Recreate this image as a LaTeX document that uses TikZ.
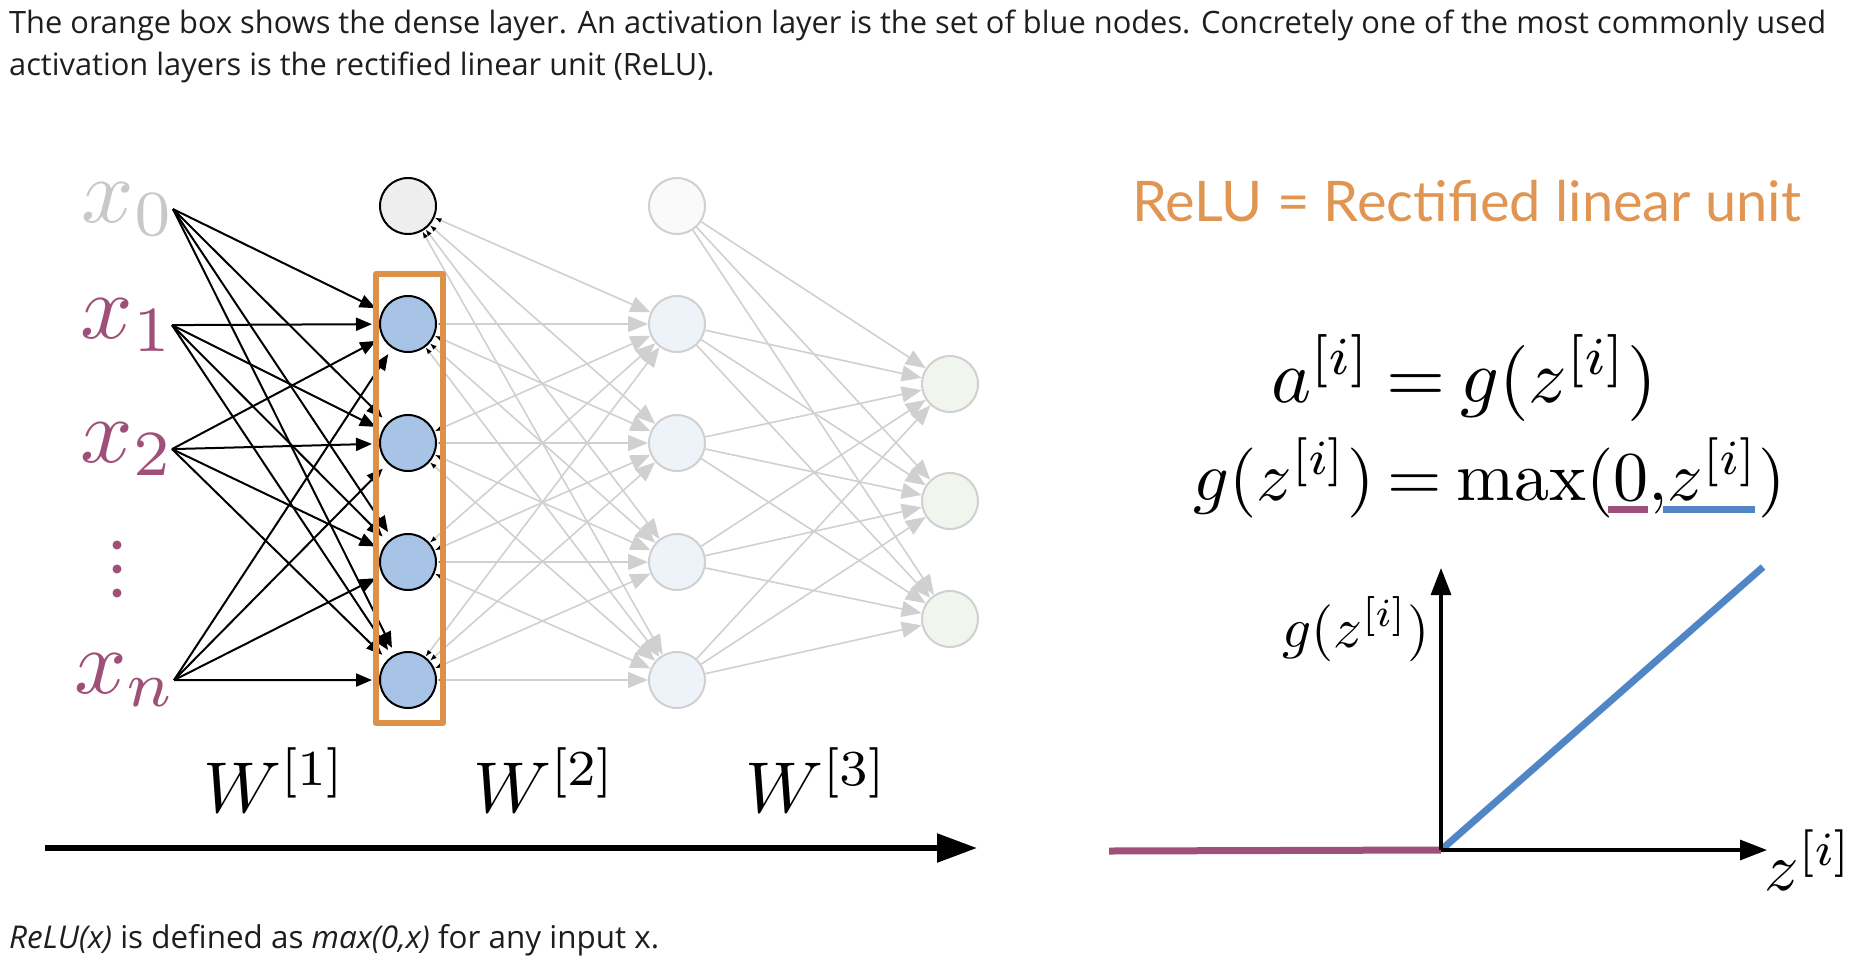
\documentclass[tikz,border=0pt]{standalone}
\usepackage{fontspec}
\usepackage{amsmath}
\usepackage{xcolor}
\usetikzlibrary{arrows.meta,calc}
\newfontfamily\bodyfont{Open Sans}
\newfontfamily\titlefont{Lato}
\newcommand\tightsub{\scriptspace=0pt\relax}
\newcommand\tighteq{\thickmuskip=3.5mu\relax}
\definecolor{boxorange}{RGB}{221,145,72}
\definecolor{titleorange}{RGB}{224,150,82}
\definecolor{inputmauve}{RGB}{158,80,120}
\definecolor{inputgray}{RGB}{200,200,200}
\definecolor{actblue}{RGB}{167,196,230}
\definecolor{lineblue}{RGB}{80,134,198}
\definecolor{fadeblue}{RGB}{238,243,250}
\definecolor{fadegreen}{RGB}{240,246,237}
\definecolor{fadewhite}{RGB}{250,250,250}
\definecolor{fadegray}{RGB}{208,208,208}
\definecolor{biasgray}{RGB}{238,238,238}
\definecolor{bodyblack}{RGB}{30,30,30}

\begin{document}
\begin{tikzpicture}[x=1pt,y=-1pt,
  neuron/.style={circle,inner sep=0pt,minimum size=56pt,line width=2pt},
  biasnode/.style={neuron,draw=black,fill=biasgray},
  actnode/.style={neuron,draw=black,fill=actblue},
  fadebias/.style={neuron,draw=fadegray,fill=fadewhite},
  fadenode/.style={neuron,draw=fadegray,fill=fadeblue},
  outnode/.style={neuron,draw=fadegray,fill=fadegreen},
  mathtext/.style={inner sep=0pt,anchor=base west,scale=#1},
  inlabel/.style={inner sep=0pt,anchor=base east,text=inputmauve,scale=9.2,font=\tightsub},
  wlabel/.style={inner sep=0pt,anchor=base,scale=7.2},
  bodytext/.style={inner sep=0pt,anchor=base west,text=bodyblack,font=\bodyfont\fontsize{30.8}{36}\selectfont},
  inedge/.style={line width=2pt,shorten >=7pt,-{Triangle[length=16pt,width=13pt]}},
  fadeedge/.style={line width=1.6pt,draw=fadegray,-{Triangle[length=20pt,width=16pt]}},
  backedge/.style={fadeedge,arrows={Latex[color=black,length=7pt,width=5pt]-Triangle[length=20pt,width=16pt]}},
  densebox/.style={draw=boxorange,line width=6pt,line join=round},
  axisarrow/.style={line width=3.2pt,-{Triangle[length=27pt,width=20pt]}}
]
\useasboundingbox (0,0) rectangle (1860,962);

\node[bodytext] (intro-1) at (9,33) {The orange box shows the dense layer. An activation layer is the set of blue nodes. Concretely one of the most commonly used};
\node[bodytext] (intro-2) at ([yshift=-42pt]intro-1.base west) {activation layers is the rectified linear unit (ReLU).};
\node[bodytext,font=\bodyfont\fontsize{31.4}{36}\selectfont] (outro) at (9,948) {\itshape ReLU(x)\upshape{} is defined as \itshape max(0,x)\upshape{} for any input x.};

\node[inlabel,text=inputgray] (in-0) at (173,222) {$x_0$};
\node[inlabel] (in-1) at (172,338) {$x_1$};
\node[inlabel] (in-2) at (172,462) {$x_2$};
\node[inlabel] (in-n) at (174,693) {$x_n$};
\foreach \y in {545,569,593}
  \fill[inputmauve] (117,\y) circle (4.5);

\node[biasnode] (hidA-0) at (408,206) {};
\node[fadebias] (hidB-0) at (677,206) {};
\foreach \j/\y in {1/324,2/443,3/562,4/680} {
  \node[actnode] (hidA-\j) at (408,\y) {};
  \node[fadenode] (hidB-\j) at (677,\y) {};
}
\foreach \j/\y in {1/384,2/501,3/619}
  \node[outnode] (out-\j) at (950,\y) {};

\foreach \i in {0,1,2,n}
  \foreach \j in {1,...,4}
    \draw[inedge] (in-\i.east) -- (hidA-\j);
\foreach \i in {0,...,4}
  \foreach \j in {1,...,4}
    \draw[backedge] (hidA-\i) -- (hidB-\j);
\foreach \i in {0,...,4}
  \foreach \j in {1,2,3}
    \draw[fadeedge] (hidB-\i) -- (out-\j);

\draw[densebox] ($(hidA-1.north)+(-32,-21)$) rectangle ($(hidA-4.south)+(35,14)$);

\node[wlabel] (w-1) at (275,812) {$W^{[1]}$};
\node[wlabel] (w-2) at (545,812) {$W^{[2]}$};
\node[wlabel] (w-3) at (817,812) {$W^{[3]}$};
\coordinate (flow-start) at (45,848);
\coordinate (flow-end) at (977,848);
\draw[line width=5.5pt,-{Triangle[length=40pt,width=28pt]}] (flow-start) -- (flow-end);

\node[inner sep=0pt,anchor=base west,text=titleorange,font=\titlefont\fontsize{56}{64}\selectfont] (relu-title) at (1132,221) {ReLU = Rectified linear unit};
\node[mathtext=7.6,font=\tighteq] (act-eq) at (1270,402) {$a^{[i]} = g(z^{[i]})$};
\node[mathtext=7.0,font=\tighteq] (relu-eq) at (1192,500) {$g(z^{[i]}) = \max(0{,}z^{[i]})$};
\draw[inputmauve,line width=7pt] (1608,509) -- (1648,509);
\draw[lineblue,line width=7pt] (1663,509) -- (1755,509);

\coordinate (origin) at (1441,850);
\coordinate (y-top) at (1441,568);
\coordinate (x-right) at (1767,850);
\coordinate (neg-end) at (1109,851);
\coordinate (pos-end) at (1763,567);
\draw[inputmauve,line width=7pt] (neg-end) -- (origin);
\draw[lineblue,line width=7pt] (origin) -- (pos-end);
\draw[axisarrow] (origin) -- (y-top);
\draw[axisarrow] (origin) -- (x-right);
\node[mathtext=5.7] (g-label) at (1281,647) {$g(z^{[i]})$};
\node[mathtext=6.8] (z-label) at (1763,890) {$z^{[i]}$};

\end{tikzpicture}
\end{document}
